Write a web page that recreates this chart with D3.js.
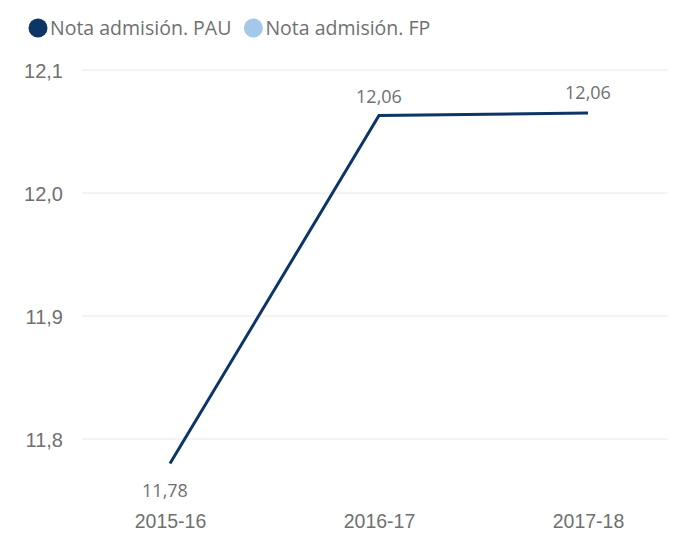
<!DOCTYPE html>
<html><head><meta charset="utf-8">
<script src="https://cdn.jsdelivr.net/npm/d3@7"></script>
<style>body{margin:0;background:#fff;}svg{display:block;font-family:"Segoe UI","Open Sans","Noto Sans",sans-serif;}</style>
</head><body>
<svg id="c" width="682" height="536"></svg>
<script>
const categories = ["2015-16","2016-17","2017-18"];
const pauValues = [11.78, 12.063, 12.065];
const pauLabels = ["11,78","12,06","12,06"];
const yTicks = [11.8, 11.9, 12.0, 12.1];
const yTickLabels = ["11,8","11,9","12,0","12,1"];
const seriesNames = ["Nota admisión. PAU","Nota admisión. FP"];
const seriesColors = ["#0d3566","#a5c7e9"];

const svg = d3.select("#c");
const x = d3.scalePoint().domain(categories).range([170, 588]);
const y = d3.scaleLinear().domain([11.8, 12.1]).range([439, 70]);

// gridlines
svg.append("g").selectAll("line").data(yTicks).join("line")
  .attr("x1", 82).attr("x2", 668)
  .attr("y1", d => y(d)).attr("y2", d => y(d))
  .attr("stroke", "#e8e8e8").attr("stroke-width", 1);

// y axis labels
const yAxis = d3.axisLeft(y).tickValues(yTicks).tickFormat((d,i) => yTickLabels[i]).tickSize(0).tickPadding(0);
const gy = svg.append("g").attr("transform", "translate(63,0)").call(yAxis);
gy.select(".domain").remove();
gy.selectAll("text").attr("fill", "#707070").attr("dy", "0.35em").style("font-size", "20px").style("font-family", "inherit");

// x axis labels
const xAxis = d3.axisBottom(x).tickSize(0).tickPadding(0);
const gx = svg.append("g").attr("transform", "translate(0,510)").call(xAxis);
gx.select(".domain").remove();
gx.selectAll("text").attr("fill", "#707070").attr("dy", "0.9em").style("font-size", "19.5px").style("font-family", "inherit");

// line
const line = d3.line().x((d,i) => x(categories[i])).y(d => y(d));
svg.append("path").datum(pauValues).attr("d", line)
  .attr("fill", "none").attr("stroke", seriesColors[0]).attr("stroke-width", 3)
  .attr("stroke-linejoin", "miter");

// data labels
const offsets = [{dx:-5, dy:33}, {dx:0, dy:-13}, {dx:0, dy:-14}];
svg.append("g").selectAll("text").data(pauValues).join("text")
  .attr("x", (d,i) => x(categories[i]) + offsets[i].dx)
  .attr("y", (d,i) => y(d) + offsets[i].dy)
  .attr("text-anchor", "middle")
  .attr("fill", "#707070").style("font-size", "18px")
  .text((d,i) => pauLabels[i]);

// legend
const lg = svg.append("g");
let lx = 38;
seriesNames.forEach((n, i) => {
  lg.append("circle").attr("cx", lx).attr("cy", 28).attr("r", 9.5).attr("fill", seriesColors[i]);
  const t = lg.append("text").attr("x", lx + 12).attr("y", 35).attr("fill", "#707070")
    .style("font-size", "19.5px").text(n);
  lx += 12 + t.node().getComputedTextLength() + 22;
});
</script>
</body></html>
